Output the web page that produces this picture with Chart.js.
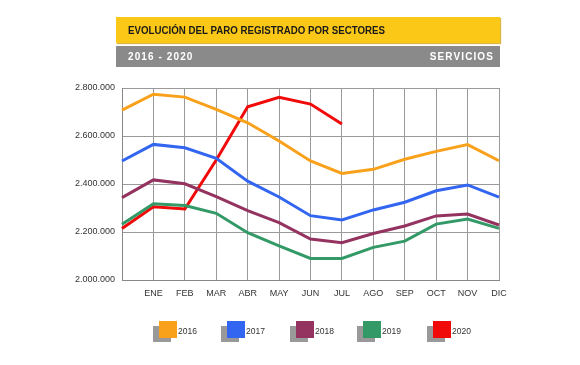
<!DOCTYPE html>
<html>
<head>
<meta charset="utf-8">
<script src="https://cdn.jsdelivr.net/npm/chart.js@4"></script>
<style>
    body { margin: 0; background: #fff; font-family: "Liberation Sans", Arial, sans-serif; }
    #wrap { position: relative; width: 580px; height: 365px; }
    #chart { position: absolute; left: 0; top: 0; }
    .bar1 { position: absolute; left: 116px; top: 17px; width: 384px; height: 26px; background: #FBC817; box-shadow: 1px 1px 1px #d9b64a; }
    .bar1 span { position: absolute; left: 12px; top: 7px; font-weight: bold; font-size: 11.5px; color: #1a1a1a; white-space: nowrap; transform: scaleX(0.845); transform-origin: left center; }
    .bar2 { position: absolute; left: 116px; top: 46px; width: 384px; height: 21px; background: #8a8a8a; color: #fff; font-weight: bold; font-size: 10px; letter-spacing: 1.1px; }
    .bar2 .l { position: absolute; left: 12px; top: 5px; }
    .bar2 .r { position: absolute; right: 6px; top: 5px; }
    .leg { position: absolute; top: 321px; font-size: 9.5px; color: #333; }
    .leg .sh { position: absolute; left: -6px; top: 5px; width: 18px; height: 16px; background: #999; }
    .leg .bx { position: absolute; left: 0; top: 0; width: 18px; height: 17px; }
    .leg .tx { position: absolute; left: 19px; top: 4px; transform: scaleX(0.9); transform-origin: left center; }
</style>
</head>
<body>
<div id="wrap">
    <canvas id="chart" width="580" height="365"></canvas>
    <div class="bar1"><span>EVOLUCIÓN DEL PARO REGISTRADO POR SECTORES</span></div>
    <div class="bar2"><span class="l">2016 - 2020</span><span class="r">SERVICIOS</span></div>
    <div id="legend"></div>
</div>
<script>
// DATA
const months = ['', 'ENE', 'FEB', 'MAR', 'ABR', 'MAY', 'JUN', 'JUL', 'AGO', 'SEP', 'OCT', 'NOV', 'DIC'];
const years = ['2016', '2017', '2018', '2019', '2020'];
const colors = ['#F9A11B', '#3366F0', '#94335F', '#339966', '#F00A0A'];

const s2016 = [2708000, 2774000, 2762000, 2711000, 2655000, 2579000, 2496000, 2444000, 2461000, 2503000, 2536000, 2564000, 2497000];
const s2017 = [2496000, 2565000, 2551000, 2507000, 2412000, 2346000, 2268000, 2250000, 2292000, 2324000, 2372000, 2396000, 2345000];
const s2018 = [2343000, 2417000, 2401000, 2347000, 2289000, 2239000, 2171000, 2155000, 2194000, 2225000, 2267000, 2275000, 2229000];
const s2019 = [2232000, 2318000, 2310000, 2278000, 2197000, 2142000, 2090000, 2090000, 2136000, 2162000, 2233000, 2254000, 2215000];
const s2020 = [2215000, 2305000, 2296000, 2500000, 2722000, 2761000, 2733000, 2650000];

const series = [s2016, s2017, s2018, s2019, s2020];

// LEGEND
const legendX = [159, 227, 296, 363, 433];
const legend = document.getElementById('legend');
years.forEach((y, i) => {
    const d = document.createElement('div');
    d.className = 'leg';
    d.style.left = legendX[i] + 'px';
    d.innerHTML = '<div class="sh"></div><div class="bx" style="background:' + colors[i] + '"></div><span class="tx">' + y + '</span>';
    legend.appendChild(d);
});

function fmt(v) {
    return String(v).replace(/\B(?=(\d{3})+(?!\d))/g, '.');
}

// CHART
const ctx = document.getElementById('chart').getContext('2d');

new Chart(ctx, {
    type: 'line',
    data: {
        labels: months,
        datasets: series.map((s, i) => ({
            label: years[i],
            data: s,
            borderColor: colors[i],
            borderWidth: 3,
            pointRadius: 0,
            tension: 0,
            fill: false
        }))
    },
    options: {
        responsive: false,
        animation: false,
        layout: { padding: { left: 0, top: 88, right: 81, bottom: 0 } },
        plugins: { legend: { display: false }, tooltip: { enabled: false } },
        scales: {
            x: {
                offset: false,
                afterFit: (s) => { s.height = 85; },
                grid: { color: '#9a9a9a', lineWidth: 1, drawTicks: false },
                border: { color: '#888' },
                ticks: { color: '#333', font: { family: 'Liberation Sans', size: 9 }, padding: 8, maxRotation: 0, autoSkip: false }
            },
            y: {
                min: 2000000,
                max: 2800000,
                afterFit: (s) => { s.width = 122; },
                grid: { color: '#9a9a9a', lineWidth: 1, drawTicks: false },
                border: { color: '#888' },
                ticks: {
                    stepSize: 200000,
                    color: '#333',
                    font: { family: 'Liberation Sans', size: 9 },
                    padding: 7,
                    callback: (v) => fmt(v)
                }
            }
        }
    }
});
</script>
</body>
</html>
